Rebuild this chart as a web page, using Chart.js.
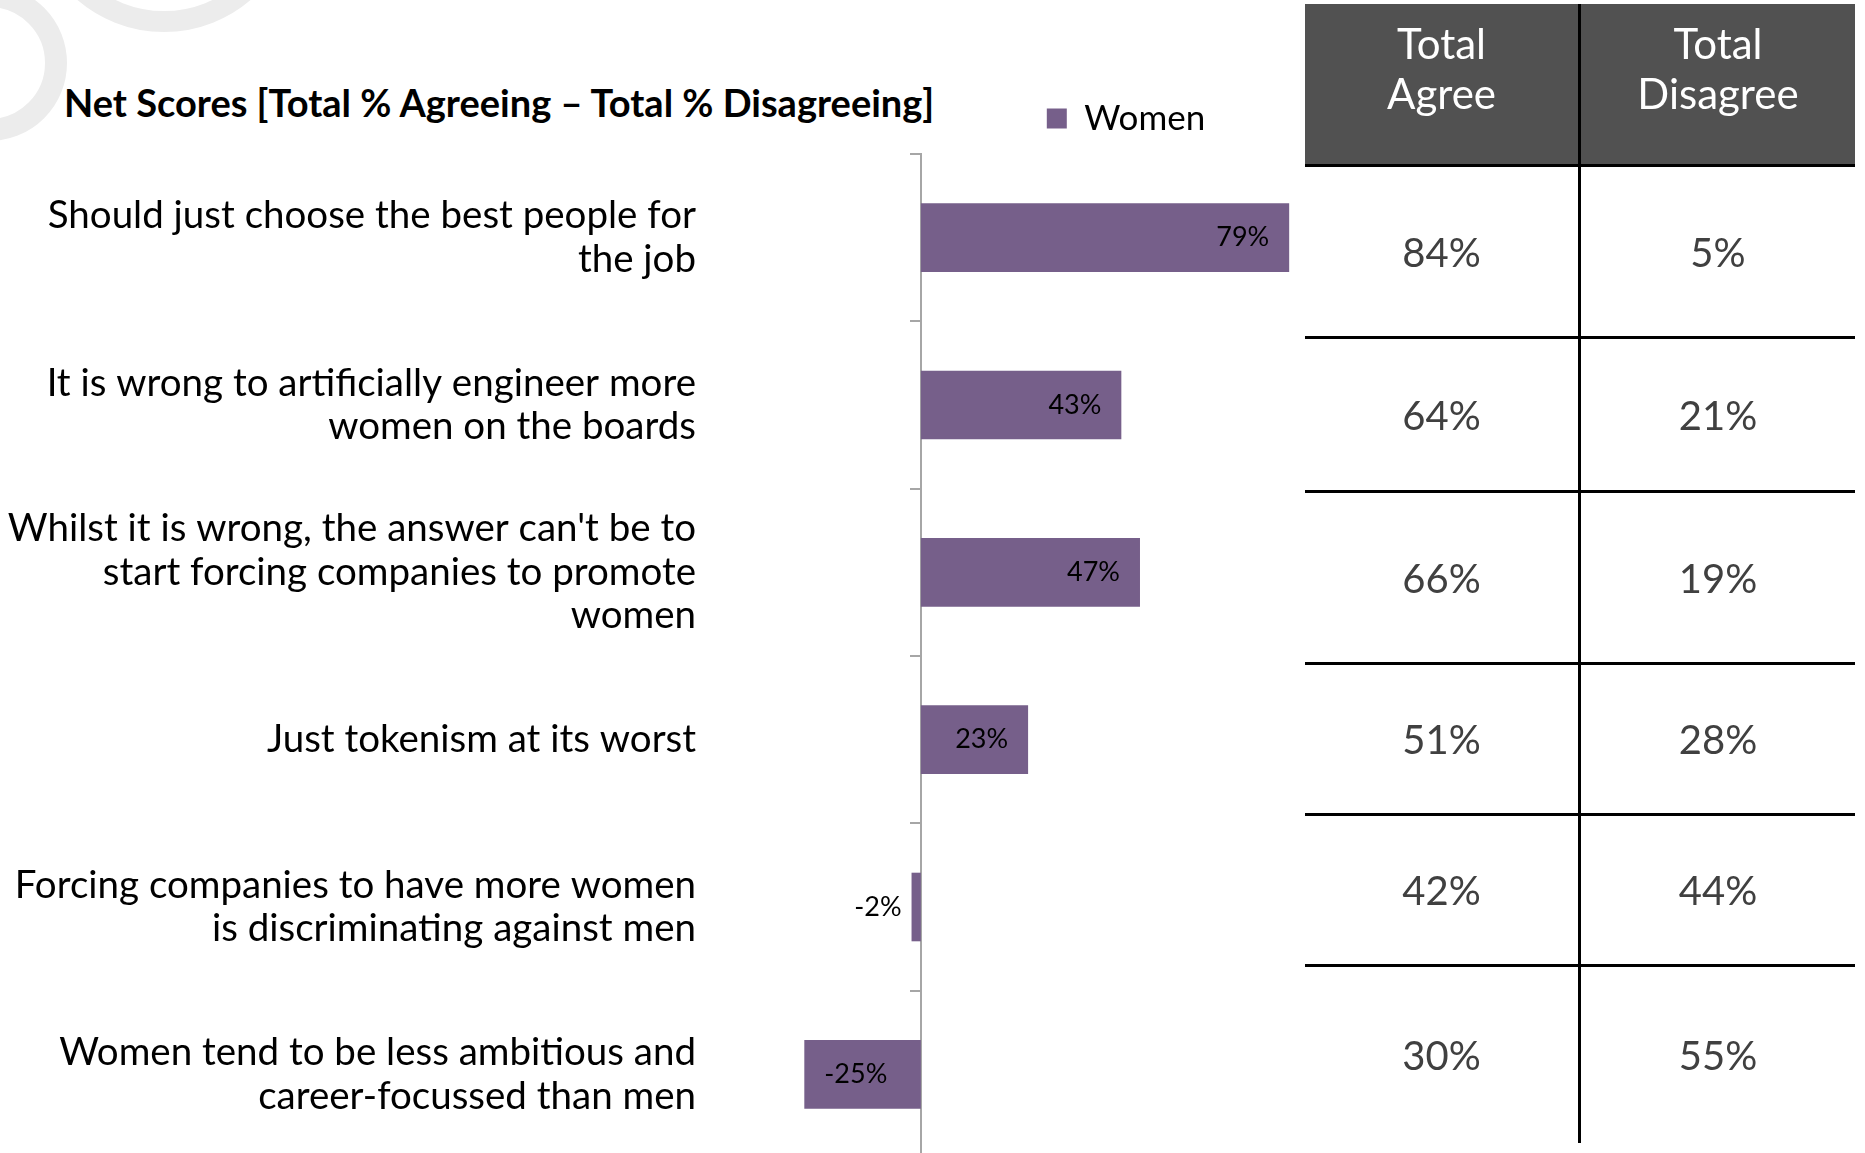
<!DOCTYPE html>
<html>
<head>
<meta charset="utf-8">
<title>Net Scores</title>
<script src="https://cdn.jsdelivr.net/npm/chart.js@4.4.1/dist/chart.umd.min.js"></script>
<style>
  html, body { margin:0; padding:0; background:#fff; }
  body { width:1865px; height:1153px; overflow:hidden; position:relative; font-family:Lato, "Liberation Sans", sans-serif; }
  .ring { position:absolute; border-radius:50%; border-style:solid; border-color:#ececec; box-sizing:border-box; }
  #ringA { left:-89px; top:-15px; width:156px; height:156px; border-width:22px; }
  #ringB { left:31px; top:-234px; width:266px; height:266px; border-width:21px; }
  #heading { position:absolute; left:64px; top:80px; margin:0; font-size:38px; line-height:44px; font-weight:700; color:#000; white-space:nowrap; }
  #chartBox { position:absolute; left:0; top:0; width:1865px; height:1160px; }
  #totals { position:absolute; left:1305px; top:4px; width:550px; display:grid;
            grid-template-columns:276px 274px; grid-template-rows:163px 172px 154px 172px 151px 151px 176px; }
  #totals div { box-sizing:border-box; display:flex; justify-content:center; }
  #totals .head { background:#515151; color:#fff; font-size:42px; line-height:50px; text-align:center; padding-top:14px; align-items:flex-start; }
  #totals .cell { color:#404040; font-size:40px; align-items:center; }
  #totals .left { border-right:3px solid #000; }
  #totals .ruled { border-bottom:3px solid #000; }
</style>
</head>
<body>
<div class="ring" id="ringA"></div>
<div class="ring" id="ringB"></div>
<h2 id="heading">Net Scores [Total % Agreeing – Total % Disagreeing]</h2>
<div id="chartBox"><canvas id="chart"></canvas></div>
<div id="totals"></div>

<script>
// statements, one per bar (multi-line labels)
const categories = [
  ['Should just choose the best people for', 'the job'],
  ['It is wrong to artificially engineer more', 'women on the boards'],
  ["Whilst it is wrong, the answer can't be to", 'start forcing companies to promote', 'women'],
  'Just tokenism at its worst',
  ['Forcing companies to have more women', 'is discriminating against men'],
  ['Women tend to be less ambitious and', 'career-focussed than men']
];
const seriesName = 'Women';
const netScores = [79, 43, 47, 23, -2, -25];

// side table
const tableHeaders = [['Total', 'Agree'], ['Total', 'Disagree']];
const totalAgree = [84, 64, 66, 51, 42, 30];
const totalDisagree = [5, 21, 19, 28, 44, 55];

const barColor = '#765F8A';
const axisGray = '#a6a6a6';

// build the agree / disagree table
const totals = document.getElementById('totals');
function addCell(cls, html){
  const d = document.createElement('div');
  d.className = cls;
  d.innerHTML = html;
  totals.appendChild(d);
}
addCell('head left ruled', tableHeaders[0].join('<br>'));
addCell('head ruled', tableHeaders[1].join('<br>'));
totalAgree.forEach((a, i) => {
  const rule = i < totalAgree.length - 1 ? ' ruled' : '';
  addCell('cell left' + rule, a + '%');
  addCell('cell' + rule, totalDisagree[i] + '%');
});

// value labels: inside the bar end when it fits, otherwise just outside
const valueLabels = {
  id: 'valueLabels',
  afterDatasetsDraw(chart){
    const ctx = chart.ctx;
    const meta = chart.getDatasetMeta(0);
    ctx.save();
    ctx.font = '27px Lato, "Liberation Sans", sans-serif';
    ctx.fillStyle = '#000';
    ctx.textBaseline = 'middle';
    meta.data.forEach((bar, i) => {
      const v = netScores[i];
      const text = v + '%';
      const w = ctx.measureText(text).width;
      const len = Math.abs(bar.x - bar.base);
      const inside = len > w + 40;
      if (v >= 0) {
        ctx.textAlign = inside ? 'right' : 'left';
        ctx.fillText(text, inside ? bar.x - 20 : bar.x + 10, bar.y);
      } else {
        ctx.textAlign = inside ? 'left' : 'right';
        ctx.fillText(text, inside ? bar.x + 20 : bar.x - 10, bar.y);
      }
    });
    ctx.restore();
  }
};

new Chart(document.getElementById('chart'), {
  type: 'bar',
  data: {
    labels: categories,
    datasets: [{
      label: seriesName,
      data: netScores,
      backgroundColor: barColor,
      borderWidth: 0,
      barPercentage: 0.41,
      categoryPercentage: 1.0
    }]
  },
  options: {
    indexAxis: 'y',
    responsive: true,
    maintainAspectRatio: false,
    animation: false,
    layout: { padding: { top: 91, right: 394, bottom: 2, left: 0 } },
    plugins: {
      legend: {
        position: 'top',
        fullSize: false,
        align: 'center',
        labels: {
          color: '#000',
          font: { family: 'Lato', size: 35 },
          boxWidth: 20,
          boxHeight: 20,
          padding: 10
        }
      },
      tooltip: { enabled: false }
    },
    scales: {
      x: {
        position: 'top',
        min: -30,
        max: 118,
        grid: { display: false },
        border: { display: false },
        ticks: { display: false },
        afterFit(s){ s.height = 8; }
      },
      y: {
        grid: { display: false, drawTicks: false },
        border: { display: false },
        ticks: {
          color: '#000',
          autoSkip: false,
          padding: 85,
          font: { family: 'Lato', size: 38.5, lineHeight: 1.13 }
        },
        // fixed label column; the wide label gap should not shrink the plot vertically
        afterFit(s){ s.width = 781; s.paddingTop = 0; s.paddingBottom = 0; }
      },
      // category axis sitting on the zero line, ticks between statements
      y2: {
        type: 'category',
        labels: categories,
        position: { x: 0 },
        offset: true,
        grid: { offset: true, drawOnChartArea: false, drawTicks: true, tickLength: 10, color: axisGray, lineWidth: 2 },
        border: { display: true, color: axisGray, width: 2 },
        ticks: { display: false },
        afterFit(s){ s.width = 0; }
      }
    }
  },
  plugins: [valueLabels]
});
</script>
</body>
</html>
